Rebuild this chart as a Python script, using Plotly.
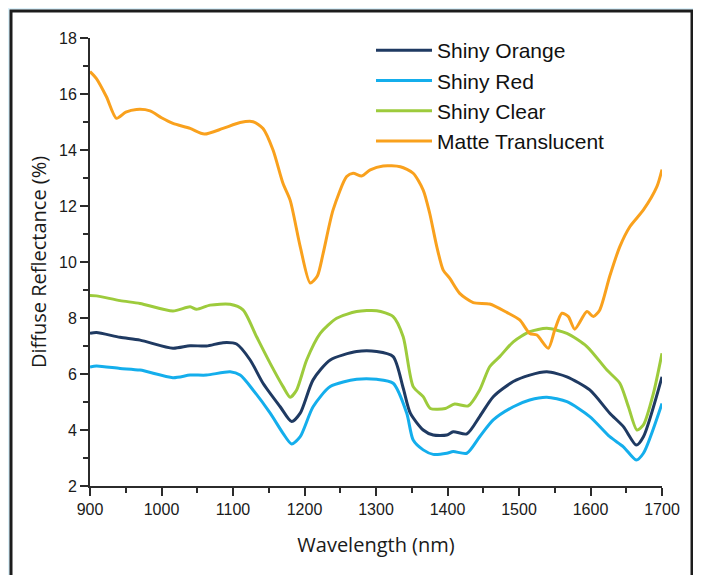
import plotly.graph_objects as go

# ---------------- data ----------------
x_matte = [900, 909, 923, 937, 950, 965, 984, 1000, 1016, 1040, 1060, 1086, 1110, 1128,
           1142, 1156, 1170, 1180, 1194, 1208, 1218, 1226, 1240, 1259, 1268, 1280, 1292,
           1310, 1334, 1352, 1366, 1375, 1385, 1394, 1403, 1417, 1436, 1459, 1483, 1501,
           1515, 1525, 1541, 1550, 1560, 1569, 1578, 1595, 1604, 1613, 1627, 1641, 1655,
           1674, 1693, 1700]
y_matte = [16.8, 16.55, 15.9, 15.13, 15.35, 15.45, 15.4, 15.15, 14.95, 14.77, 14.57, 14.77,
           14.98, 15.01, 14.77, 14.0, 12.8, 12.2, 10.55, 9.25, 9.5, 10.3, 11.86, 13.05,
           13.17, 13.07, 13.29, 13.43, 13.4, 13.17, 12.57, 11.75, 10.55, 9.71, 9.42, 8.88,
           8.55, 8.5, 8.2, 7.93, 7.45, 7.39, 6.92, 7.57, 8.17, 8.05, 7.6, 8.23, 8.05, 8.29,
           9.5, 10.55, 11.26, 11.86, 12.7, 13.3]

x_clear = [900, 909, 942, 970, 1016, 1040, 1049, 1068, 1096, 1114, 1133, 1152, 1170, 1180,
           1189, 1203, 1222, 1245, 1273, 1301, 1324, 1338, 1352, 1366, 1376, 1397, 1410,
           1429, 1445, 1459, 1473, 1492, 1515, 1539, 1567, 1595, 1623, 1641, 1653, 1665,
           1674, 1688, 1700]
y_clear = [8.8, 8.79, 8.62, 8.52, 8.25, 8.4, 8.31, 8.46, 8.49, 8.29, 7.33, 6.38, 5.55, 5.17,
           5.43, 6.5, 7.45, 7.99, 8.23, 8.26, 8.05, 7.33, 5.55, 5.19, 4.77, 4.77, 4.93, 4.86,
           5.43, 6.26, 6.62, 7.15, 7.51, 7.63, 7.45, 6.98, 6.14, 5.67, 4.83, 4.0, 4.18,
           5.31, 6.74]

x_orange = [900, 909, 942, 970, 1016, 1040, 1063, 1086, 1105, 1124, 1142, 1166, 1182, 1194,
            1212, 1236, 1273, 1301, 1324, 1338, 1348, 1366, 1380, 1399, 1408, 1427, 1445,
            1464, 1492, 1515, 1539, 1567, 1599, 1627, 1646, 1664, 1674, 1700]
y_orange = [7.45, 7.48, 7.31, 7.21, 6.92, 7.01, 7.0, 7.12, 7.07, 6.5, 5.67, 4.83, 4.3, 4.6,
            5.79, 6.5, 6.8, 6.8, 6.62, 5.5, 4.6, 4.0, 3.82, 3.82, 3.94, 3.86, 4.48, 5.19,
            5.73, 5.96, 6.08, 5.9, 5.43, 4.6, 4.12, 3.46, 3.76, 5.9]

x_red = [900, 909, 942, 970, 1016, 1040, 1063, 1096, 1110, 1128, 1152, 1170, 1182, 1194,
         1212, 1236, 1273, 1301, 1324, 1343, 1352, 1366, 1380, 1399, 1408, 1427, 1445,
         1464, 1492, 1515, 1539, 1567, 1599, 1627, 1646, 1664, 1674, 1700]
y_red = [6.25, 6.29, 6.2, 6.14, 5.87, 5.96, 5.96, 6.08, 5.96, 5.43, 4.6, 3.88, 3.5, 3.76,
         4.83, 5.55, 5.81, 5.81, 5.67, 4.6, 3.64, 3.29, 3.13, 3.17, 3.23, 3.17, 3.76, 4.36,
         4.83, 5.07, 5.17, 5.01, 4.48, 3.76, 3.4, 2.93, 3.17, 4.95]

series_names = ["Shiny Orange", "Shiny Red", "Shiny Clear", "Matte Translucent"]
series_colors = ["#1F3A62", "#14AEEC", "#9DCB3C", "#F9A11D"]

x_ticks = [900, 1000, 1100, 1200, 1300, 1400, 1500, 1600, 1700]
y_ticks = [2, 4, 6, 8, 10, 12, 14, 16, 18]

# ---------------- figure ----------------
fig = go.Figure()
series = [(x_orange, y_orange), (x_red, y_red), (x_clear, y_clear), (x_matte, y_matte)]
for (xs, ys), name, color in zip(series, series_names, series_colors):
    fig.add_trace(go.Scatter(x=xs, y=ys, name=name, mode="lines",
                             line=dict(color=color, width=3, shape="spline", smoothing=0.7)))

# page offset of the figure (browser body margin)
OFF = 8
W, H = 701, 575
L, T = 90 - OFF, 38 - OFF
R, B = W - (662 - OFF), H - (486 - OFF)
pw, ph = W - L - R, H - T - B


def px_x(page_px):
    return (page_px - OFF - L) / pw


def px_y(page_px):
    return (H - B - (page_px - OFF)) / ph


axis_common = dict(showline=True, linecolor="#2b2b2b", linewidth=2, ticks="outside",
                   tickcolor="#2b2b2b", tickwidth=2, ticklen=8, showgrid=False,
                   zeroline=False, tickfont=dict(family="Liberation Sans, Arial", size=16,
                                                 color="#1a1a1a"))

fig.update_xaxes(range=[900, 1700], tickvals=x_ticks, ticktext=[str(v) for v in x_ticks],
                 minor=dict(dtick=50, ticks="outside", ticklen=5, tickcolor="#2b2b2b",
                            tickwidth=2),
                 title=dict(text="Wavelength (nm)", standoff=21,
                            font=dict(family="Open Sans", size=20, color="#1a1a1a")),
                 **axis_common)
fig.update_yaxes(range=[2, 18], tickvals=y_ticks, ticktext=[str(v) for v in y_ticks],
                 minor=dict(dtick=1, ticks="outside", ticklen=5, tickcolor="#2b2b2b",
                            tickwidth=2),
                 title=dict(text="Diffuse Reflectance (%)", standoff=7,
                            font=dict(family="Open Sans", size=20, color="#1a1a1a")),
                 **axis_common)

fig.add_shape(type="rect", xref="paper", yref="paper", layer="below",
              x0=px_x(11), x1=px_x(692), y0=px_y(620), y1=px_y(11),
              line=dict(color="#1c1c1c", width=3), fillcolor="white")

fig.update_layout(
    width=W, height=H, autosize=False,
    margin=dict(l=L, r=R, t=T, b=B, autoexpand=False),
    paper_bgcolor="#dcf1fa", plot_bgcolor="rgba(0,0,0,0)",
    showlegend=True,
    legend=dict(x=px_x(371), y=px_y(30), xanchor="left", yanchor="top",
                bgcolor="rgba(0,0,0,0)", itemwidth=56, tracegroupgap=0,
                font=dict(family="Liberation Sans, Arial", size=21, color="#111111")),
)

fig.write_html("out.html")
